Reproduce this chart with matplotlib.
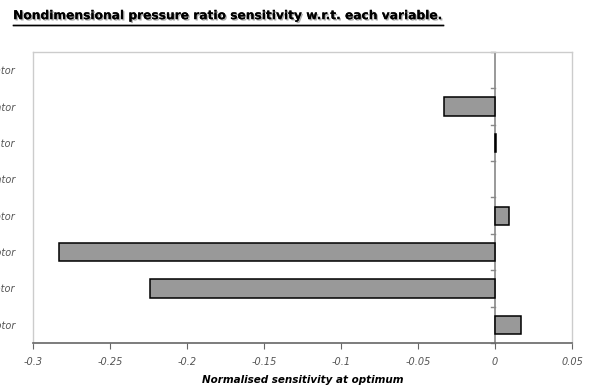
import matplotlib.pyplot as plt
import matplotlib.patheffects as pe
from matplotlib.lines import Line2D

# Variables (top to bottom as drawn); only the tails show in the original
variables = ["Gap stator", "Main stator", "Aux stator", "Field stator",
             "Gap rotor", "Main rotor", "Aux rotor", "Field rotor"]
sensitivity = [0.0, -0.033, 0.0008, 0.0, 0.009, -0.283, -0.224, 0.017]
x_ticks = [-0.3, -0.25, -0.2, -0.15, -0.1, -0.05, 0, 0.05]
x_tick_labels = ["-0.3", "-0.25", "-0.2", "-0.15", "-0.1", "-0.05", "0", "0.05"]

fig = plt.figure(figsize=(5.96, 3.91), dpi=100)
ax = fig.add_axes([0.0554, 0.1228, 0.9046, 0.7442])

n = len(variables)
pos = list(range(n))[::-1]
bars = ax.barh(pos, sensitivity, height=0.5, color="#999999", edgecolor="black",
               linewidth=1.1)
for bar, v in zip(bars, sensitivity):
    if v == 0:
        bar.set_visible(False)

ax.set_xlim(-0.3, 0.05)
ax.set_ylim(-0.5, n - 0.5)

# category axis crossing at zero, with ticks between categories
ax.axvline(0, color="#888888", linewidth=1.2, zorder=0)
for b in range(n + 1):
    yb = b - 0.5
    ax.plot([-0.0025, 0], [yb, yb], color="#888888", linewidth=1, zorder=0,
            clip_on=False)

ax.set_yticks(pos)
ax.set_yticklabels(variables, fontsize=7, style="italic", color="#555555")
ax.tick_params(axis="y", length=0, pad=13)

ax.set_xticks(x_ticks)
ax.set_xticklabels(x_tick_labels, fontsize=7, style="italic", color="#555555")
ax.tick_params(axis="x", direction="out", length=4, color="#666666", pad=6)
ax.set_xlabel("Normalised sensitivity at optimum", fontsize=7.5,
              fontweight="bold", style="italic", labelpad=6)

for side in ["left", "top", "right"]:
    ax.spines[side].set_color("#cccccc")
    ax.spines[side].set_linewidth(1)
ax.spines["bottom"].set_color("#666666")
ax.spines["bottom"].set_linewidth(1.2)

title = fig.text(0.022, 0.96, "Nondimensional pressure ratio sensitivity w.r.t. each variable.",
                 fontsize=8.8, fontweight="bold", ha="left", va="center")
title.set_path_effects([pe.withSimplePatchShadow(offset=(1, -1), shadow_rgbFace="#999999", alpha=0.8),
                        pe.Normal()])
fig.add_artist(Line2D([0.022, 0.744], [0.936, 0.936], color="black", linewidth=1,
                      path_effects=[pe.withSimplePatchShadow(offset=(1, -1), alpha=0.5), pe.Normal()]))

fig.savefig("out.png", dpi=100)
